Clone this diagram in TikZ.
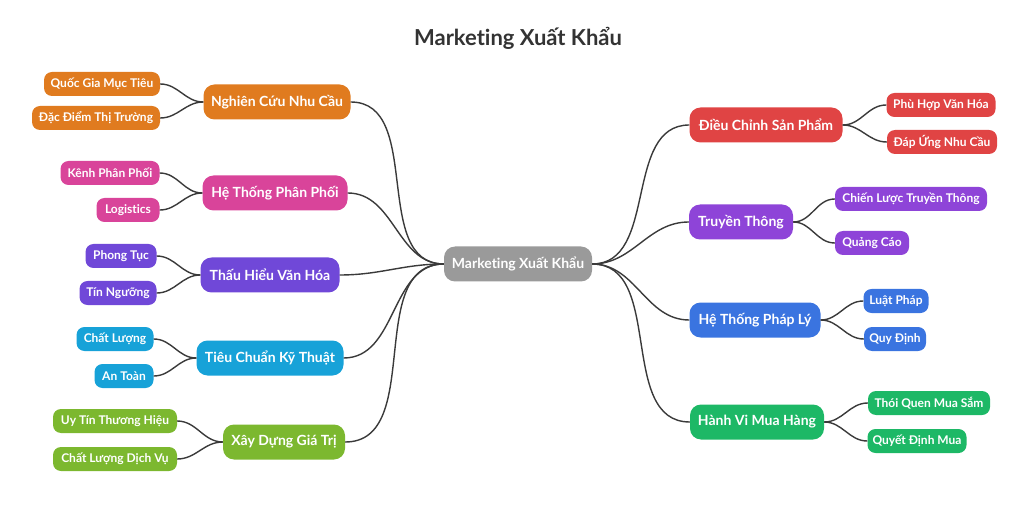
\documentclass[tikz,border=0pt]{standalone}
\usepackage{fontspec}
\setmainfont[Ligatures={NoCommon,NoRare,NoContextual}]{Lato}
\definecolor{cOr}{HTML}{E07B1F}
\definecolor{cPk}{HTML}{D9449A}
\definecolor{cPu}{HTML}{7048D8}
\definecolor{cCy}{HTML}{17A2D8}
\definecolor{cLg}{HTML}{7CB82F}
\definecolor{cRd}{HTML}{E04444}
\definecolor{cVi}{HTML}{8E44D8}
\definecolor{cBl}{HTML}{3A74E0}
\definecolor{cGr}{HTML}{1DB866}
\definecolor{cGy}{HTML}{9A9A9A}
\definecolor{cLn}{HTML}{3A3A3A}
\begin{document}
\begin{tikzpicture}[x=1pt,y=-1pt,
  box/.style={rounded corners=9pt,text=white,inner sep=0pt,align=center},
  mainb/.style={box,minimum height=35pt,font=\bfseries\fontsize{14}{16}\selectfont,rounded corners=11pt},
  leaf/.style={box,minimum height=24pt,font=\bfseries\fontsize{12}{14}\selectfont,rounded corners=8pt},
  link/.style={draw=cLn,line width=1.4pt}]
\useasboundingbox (0,0) rectangle (1024,510);
\node[font=\bfseries\fontsize{22}{26}\selectfont,text=black!80] (title) at (518,38) {Marketing Xuất Khẩu};
\node[mainb,fill=cGy,minimum width=148pt] (c) at (518,264) {Marketing Xuất Khẩu};
% left main
\node[mainb,fill=cOr,minimum width=147pt] (l1) at (277,102) {Nghiên Cứu Nhu Cầu};
\node[mainb,fill=cPk,minimum width=145pt] (l2) at (275,193) {Hệ Thống Phân Phối};
\node[mainb,fill=cPu,minimum width=139pt] (l3) at (270,275) {Thấu Hiểu Văn Hóa};
\node[mainb,fill=cCy,minimum width=147pt] (l4) at (270,358) {Tiêu Chuẩn Kỹ Thuật};
\node[mainb,fill=cLg,minimum width=122pt] (l5) at (284,442) {Xây Dựng Giá Trị};
% left leaves
\node[leaf,fill=cOr,minimum width=116pt] (a1) at (102,84) {Quốc Gia Mục Tiêu};
\node[leaf,fill=cOr,minimum width=128pt] (a2) at (96,118) {Đặc Điểm Thị Trường};
\node[leaf,fill=cPk,minimum width=99pt] (b1) at (110,173) {Kênh Phân Phối};
\node[leaf,fill=cPk,minimum width=63pt] (b2) at (128,210) {Logistics};
\node[leaf,fill=cPu,minimum width=71pt] (d1) at (121,256) {Phong Tục};
\node[leaf,fill=cPu,minimum width=77pt] (d2) at (118,293) {Tín Ngưỡng};
\node[leaf,fill=cCy,minimum width=77pt] (e1) at (115,339) {Chất Lượng};
\node[leaf,fill=cCy,minimum width=59pt] (e2) at (124,376) {An Toàn};
\node[leaf,fill=cLg,minimum width=124pt] (f1) at (115,421) {Uy Tín Thương Hiệu};
\node[leaf,fill=cLg,minimum width=124pt] (f2) at (115,459) {Chất Lượng Dịch Vụ};
% right main
\node[mainb,fill=cRd,minimum width=153pt] (r1) at (766,125) {Điều Chỉnh Sản Phẩm};
\node[mainb,fill=cVi,minimum width=104pt] (r2) at (741,222) {Truyền Thông};
\node[mainb,fill=cBl,minimum width=131pt] (r3) at (755,320) {Hệ Thống Pháp Lý};
\node[mainb,fill=cGr,minimum width=134pt] (r4) at (757,422) {Hành Vi Mua Hàng};
% right leaves
\node[leaf,fill=cRd,minimum width=109pt] (g1) at (941,105) {Phù Hợp Văn Hóa};
\node[leaf,fill=cRd,minimum width=110pt] (g2) at (942,142) {Đáp Ứng Nhu Cầu};
\node[leaf,fill=cVi,minimum width=152pt] (h1) at (911,199) {Chiến Lược Truyền Thông};
\node[leaf,fill=cVi,minimum width=74pt] (h2) at (872,243) {Quảng Cáo};
\node[leaf,fill=cBl,minimum width=65pt] (i1) at (896,301) {Luật Pháp};
\node[leaf,fill=cBl,minimum width=62pt] (i2) at (895,339) {Quy Định};
\node[leaf,fill=cGr,minimum width=122pt] (j1) at (929,403) {Thói Quen Mua Sắm};
\node[leaf,fill=cGr,minimum width=99pt] (j2) at (917,441) {Quyết Định Mua};
% links
\foreach \m in {l1,l2,l3,l4,l5}{\draw[link] (c.west) to[out=180,in=0] (\m.east);}
\foreach \m in {r1,r2,r3,r4}{\draw[link] (c.east) to[out=0,in=180] (\m.west);}
\foreach \m/\a/\b in {l1/a1/a2,l2/b1/b2,l3/d1/d2,l4/e1/e2,l5/f1/f2}{
  \draw[link] (\m.west) to[out=180,in=0] (\a.east);
  \draw[link] (\m.west) to[out=180,in=0] (\b.east);}
\foreach \m/\a/\b in {r1/g1/g2,r2/h1/h2,r3/i1/i2,r4/j1/j2}{
  \draw[link] (\m.east) to[out=0,in=180] (\a.west);
  \draw[link] (\m.east) to[out=0,in=180] (\b.west);}
\end{tikzpicture}
\end{document}
